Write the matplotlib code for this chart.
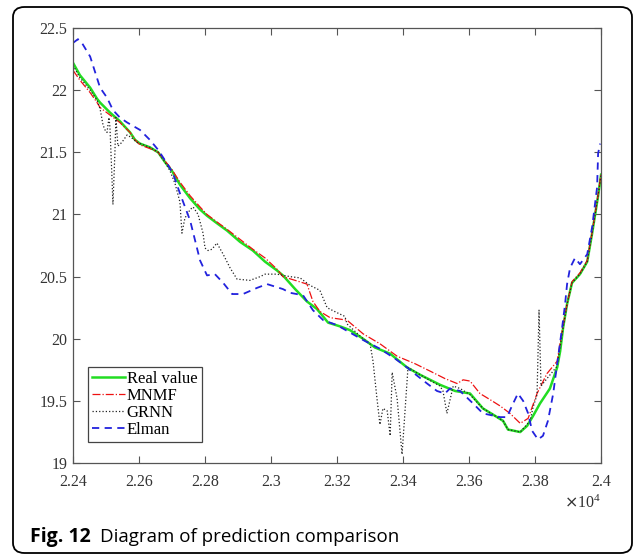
import matplotlib.pyplot as plt
from matplotlib.patches import FancyBboxPatch
from matplotlib.ticker import ScalarFormatter

# values
real_x = [22400, 22421, 22452, 22473, 22482, 22512, 22542, 22573, 22588, 22603,
          22633, 22658, 22679, 22700, 22724, 22755, 22785, 22806, 22836, 22867,
          22906, 22945, 22982, 23018, 23036, 23073, 23109, 23139, 23173, 23209,
          23239, 23279, 23315, 23361, 23412, 23452, 23512, 23558, 23603, 23642,
          23679, 23703, 23718, 23755, 23776, 23794, 23815, 23845, 23867, 23876,
          23885, 23897, 23912, 23936, 23958, 23973, 23982, 23991, 24000]
real_y = [22.22, 22.12, 22.02, 21.93, 21.90, 21.82, 21.75, 21.66, 21.60, 21.57,
          21.54, 21.50, 21.42, 21.35, 21.24, 21.13, 21.04, 20.99, 20.93, 20.87,
          20.78, 20.71, 20.62, 20.55, 20.51, 20.40, 20.30, 20.24, 20.13, 20.10,
          20.07, 20.00, 19.93, 19.88, 19.77, 19.71, 19.63, 19.58, 19.56, 19.44,
          19.38, 19.34, 19.27, 19.25, 19.30, 19.38, 19.48, 19.60, 19.77, 19.90,
          20.09, 20.28, 20.45, 20.52, 20.62, 20.85, 21.00, 21.15, 21.32]

mnmf_x = [22400, 22421, 22452, 22473, 22482, 22512, 22542, 22573, 22588, 22603,
          22633, 22658, 22679, 22700, 22724, 22755, 22785, 22806, 22836, 22867,
          22906, 22945, 22982, 23018, 23036, 23073, 23109, 23127, 23148, 23179,
          23230, 23279, 23330, 23382, 23436, 23482, 23527, 23564, 23582, 23603,
          23633, 23664, 23694, 23724, 23755, 23779, 23806, 23836, 23867, 23882,
          23897, 23912, 23936, 23958, 23973, 23982, 23991, 24000]
mnmf_y = [22.16, 22.08, 21.98, 21.90, 21.86, 21.80, 21.74, 21.66, 21.60, 21.56,
          21.53, 21.50, 21.43, 21.36, 21.26, 21.15, 21.06, 21.00, 20.94, 20.88,
          20.80, 20.72, 20.65, 20.56, 20.50, 20.47, 20.44, 20.30, 20.22, 20.17,
          20.15, 20.04, 19.96, 19.86, 19.80, 19.74, 19.68, 19.64, 19.67, 19.66,
          19.56, 19.51, 19.46, 19.40, 19.32, 19.36, 19.56, 19.72, 19.82, 20.06,
          20.28, 20.46, 20.53, 20.63, 20.86, 21.01, 21.16, 21.33]

grnn_x = [22400, 22421, 22452, 22473, 22482, 22491, 22497, 22503, 22509, 22512,
          22518, 22521, 22527, 22530, 22536, 22548, 22564, 22576, 22594, 22633,
          22658, 22679, 22694, 22709, 22724, 22730, 22739, 22755, 22764, 22779,
          22794, 22800, 22809, 22821, 22836, 22855, 22876, 22897, 22936, 22967,
          22982, 23018, 23058, 23088, 23118, 23148, 23170, 23200, 23224, 23230,
          23279, 23300, 23309, 23321, 23330, 23339, 23352, 23361, 23367, 23382,
          23397, 23415, 23452, 23512, 23521, 23533, 23552, 23573, 23603, 23642,
          23703, 23718, 23755, 23785, 23794, 23806, 23812, 23818, 23836, 23867,
          23885, 23897, 23912, 23936, 23958, 23973, 23982, 23991, 24000]
grnn_y = [22.20, 22.10, 22.00, 21.92, 21.85, 21.72, 21.68, 21.66, 21.78, 21.70,
          21.30, 21.08, 21.50, 21.78, 21.55, 21.58, 21.64, 21.62, 21.58, 21.54,
          21.50, 21.42, 21.35, 21.25, 21.10, 20.85, 20.97, 21.04, 21.06, 21.00,
          20.85, 20.73, 20.71, 20.72, 20.77, 20.68, 20.57, 20.48, 20.47, 20.50,
          20.52, 20.52, 20.50, 20.49, 20.43, 20.39, 20.25, 20.21, 20.18, 20.12,
          20.00, 19.96, 19.82, 19.52, 19.31, 19.44, 19.42, 19.22, 19.73, 19.52,
          19.07, 19.77, 19.71, 19.62, 19.58, 19.40, 19.62, 19.60, 19.55, 19.44,
          19.34, 19.27, 19.25, 19.34, 19.45, 19.55, 20.23, 19.62, 19.68, 19.78,
          20.09, 20.28, 20.45, 20.52, 20.62, 20.85, 21.00, 21.15, 21.32]

elman_x = [22400, 22415, 22427, 22452, 22482, 22503, 22521, 22542, 22564, 22603,
           22633, 22658, 22685, 22703, 22724, 22755, 22785, 22806, 22830, 22855,
           22882, 22915, 22958, 22988, 23036, 23058, 23097, 23127, 23158, 23200,
           23279, 23330, 23376, 23412, 23430, 23473, 23503, 23527, 23542, 23573,
           23612, 23642, 23694, 23715, 23730, 23748, 23764, 23779, 23791, 23809,
           23824, 23839, 23855, 23867, 23882, 23891, 23897, 23906, 23921, 23936,
           23958, 23973, 23988, 23991, 23997]
elman_y = [22.38, 22.41, 22.38, 22.27, 22.02, 21.94, 21.84, 21.78, 21.74, 21.68,
           21.60, 21.52, 21.41, 21.33, 21.17, 20.95, 20.63, 20.51, 20.52, 20.45,
           20.36, 20.36, 20.41, 20.44, 20.40, 20.37, 20.35, 20.23, 20.15, 20.11,
           19.99, 19.92, 19.84, 19.77, 19.73, 19.64, 19.58, 19.56, 19.60, 19.58,
           19.48, 19.40, 19.37, 19.37, 19.46, 19.56, 19.50, 19.40, 19.26, 19.19,
           19.22, 19.34, 19.56, 19.80, 20.09, 20.28, 20.44, 20.57, 20.65, 20.60,
           20.68, 20.90, 21.22, 21.49, 21.57]

x_ticks = [22400, 22600, 22800, 23000, 23200, 23400, 23600, 23800, 24000]
y_ticks = [19, 19.5, 20, 20.5, 21, 21.5, 22, 22.5]

serif = "Liberation Serif"


class ShortSci(ScalarFormatter):
    # MATLAB style: 2.3 instead of 2.30, keeps the x10^4 offset text
    def __call__(self, x, pos=None):
        return f"{x / 10 ** self.orderOfMagnitude:g}"


fig = plt.figure(figsize=(6.37, 5.6), dpi=100)
ax = fig.add_axes([0.1146, 0.173, 0.829, 0.777])

ax.plot(real_x, real_y, color="#22dd22", linewidth=1.8, label="Real value")
ax.plot(mnmf_x, mnmf_y, color="#ee1111", linewidth=0.9, linestyle="-.",
        label="MNMF")
ax.plot(grnn_x, grnn_y, color="#222222", linewidth=0.9, linestyle=":",
        label="GRNN")
ax.plot(elman_x, elman_y, color="#2222dd", linewidth=1.3,
        linestyle=(0, (4, 3)), label="Elman")

ax.set_xlim(22400, 24000)
ax.set_ylim(19, 22.5)
ax.set_xticks(x_ticks)
ax.set_yticks(y_ticks)
ax.set_yticklabels([f"{v:g}" for v in y_ticks])

fmt = ShortSci(useMathText=True)
fmt.set_scientific(True)
fmt.set_powerlimits((4, 4))
fmt.set_useOffset(False)
ax.xaxis.set_major_formatter(fmt)

for sp in ax.spines.values():
    sp.set_color("#555555")
    sp.set_linewidth(0.9)
ax.tick_params(direction="in", top=True, right=True, length=5,
               color="#555555", labelsize=11.5, labelcolor="#333333")
ax.tick_params(axis="x", pad=8)
ax.tick_params(axis="y", pad=4)
for lbl in ax.get_xticklabels() + ax.get_yticklabels():
    lbl.set_fontfamily(serif)
ax.xaxis.get_offset_text().set_fontfamily(serif)
ax.xaxis.get_offset_text().set_fontsize(11.5)
ax.xaxis.get_offset_text().set_color("#333333")

leg = ax.legend(loc="lower left", prop={"family": serif, "size": 12},
                handlelength=2.0, handletextpad=0.1, borderpad=0.25,
                labelspacing=0.05, fancybox=False, framealpha=1,
                bbox_to_anchor=(0.012, 0.03))
leg.get_frame().set_edgecolor("#444444")
leg.get_frame().set_linewidth(0.9)

# rounded outer frame of the figure panel
frame = FancyBboxPatch((13 / 637, 7 / 560), 619 / 637, 546 / 560,
                       boxstyle="round,pad=0,rounding_size=0.018",
                       transform=fig.transFigure, fill=False,
                       edgecolor="black", linewidth=1.3)
fig.patches.append(frame)

fig.text(30 / 637, 1 - 537 / 560, "Fig. 12", fontsize=14, fontweight="bold",
         family="Open Sans", va="center", ha="left")
fig.text(100 / 637, 1 - 537 / 560, "Diagram of prediction comparison",
         fontsize=13.5, family="Open Sans", va="center", ha="left")

fig.savefig("out.png", dpi=100)
